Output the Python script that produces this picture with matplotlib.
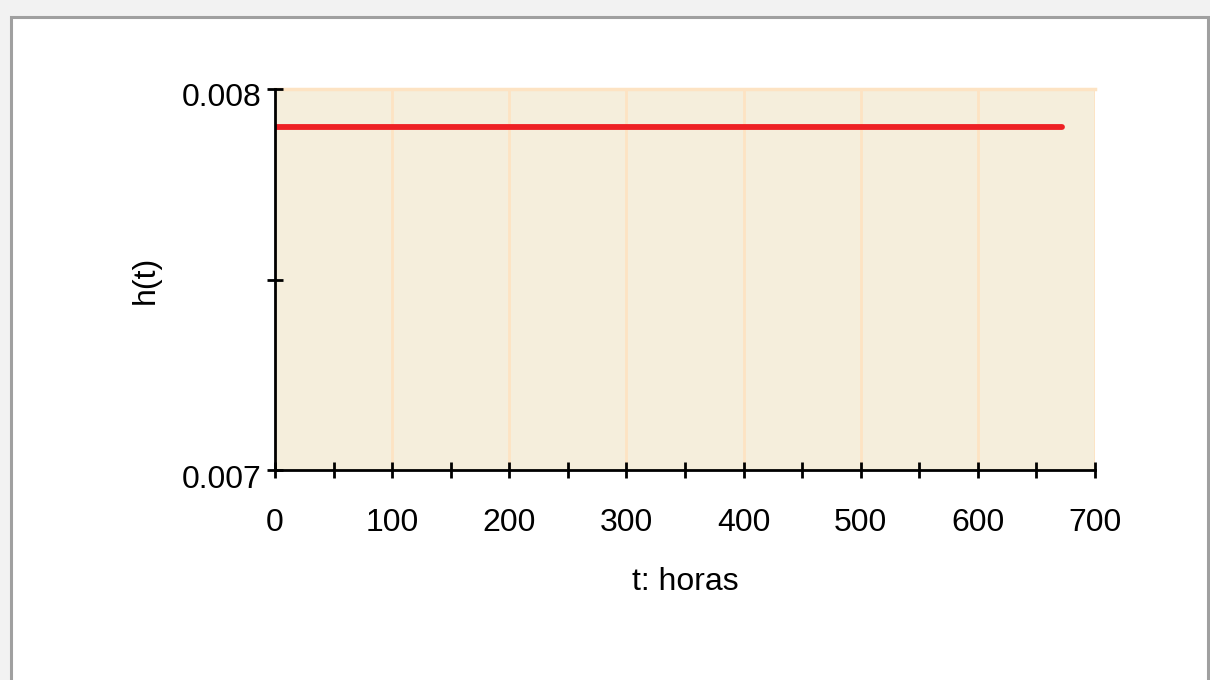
import matplotlib
matplotlib.use("Agg")
import matplotlib.pyplot as plt
import matplotlib.transforms as mtransforms
from matplotlib.patches import Rectangle
from matplotlib.ticker import MultipleLocator

# data
t_horas = [0, 672]
h_t = [0.00790, 0.00790]
x_ticks = [0, 100, 200, 300, 400, 500, 600, 700]
y_ticks = [0.007, 0.008]

plt.rcParams['font.family'] = ['Liberation Sans', 'DejaVu Sans']

W, H = 1210, 680
fig = plt.figure(figsize=(W / 100, H / 100), dpi=100, facecolor='#f2f2f2')

# outer frame: white panel with a grey border on left/top/right
fig.patches.append(Rectangle((11.5 / W, -0.01), (1207.5 - 11.5) / W, 1 - 16.5 / H + 0.01,
                             transform=fig.transFigure, facecolor='white',
                             edgecolor='#a0a0a0', linewidth=2.2, zorder=0))

ax = fig.add_axes([275 / W, 1 - 470 / H, (1095 - 275) / W, (470 - 89) / H])
ax.set_zorder(2)
ax.set_facecolor('#f5eedc')

ax.plot(t_horas, h_t, color='#ee2024', linewidth=4.2, solid_capstyle='round', zorder=3)

ax.set_xlim(0, 700)
ax.set_ylim(0.007, 0.008)
ax.set_xticks(x_ticks)
ax.set_xticklabels([str(v) for v in x_ticks])
ax.set_yticks(y_ticks)
ax.set_yticklabels(['0.007', '0.008'])
ax.xaxis.set_minor_locator(MultipleLocator(50))
ax.yaxis.set_minor_locator(MultipleLocator(0.0005))

ax.grid(True, axis='x', which='major', color='#fde3c3', linewidth=2, zorder=1)
ax.axhline(0.008, color='#fde3c3', linewidth=2.5, zorder=1, clip_on=False)

for s in ['top', 'right']:
    ax.spines[s].set_visible(False)
for s in ['left', 'bottom']:
    ax.spines[s].set_linewidth(2)
    ax.spines[s].set_color('black')
    ax.spines[s].set_zorder(4)

ax.tick_params(which='both', direction='inout', length=11, width=2, colors='black')
ax.tick_params(axis='both', which='major', labelsize=23)
ax.tick_params(axis='x', which='major', pad=22)
ax.tick_params(axis='y', which='major', pad=4)

# y tick labels sit a little below their ticks in the reference
shift = mtransforms.ScaledTranslation(0, -6 / 100, fig.dpi_scale_trans)
for lab in ax.get_yticklabels():
    lab.set_transform(lab.get_transform() + shift)

ax.set_xlabel('t: horas', fontsize=23, labelpad=21)
ax.set_ylabel('h(t)', fontsize=23)
ax.yaxis.set_label_coords(-0.139, 0.5)

fig.savefig('out.png', dpi=100, facecolor=fig.get_facecolor())
